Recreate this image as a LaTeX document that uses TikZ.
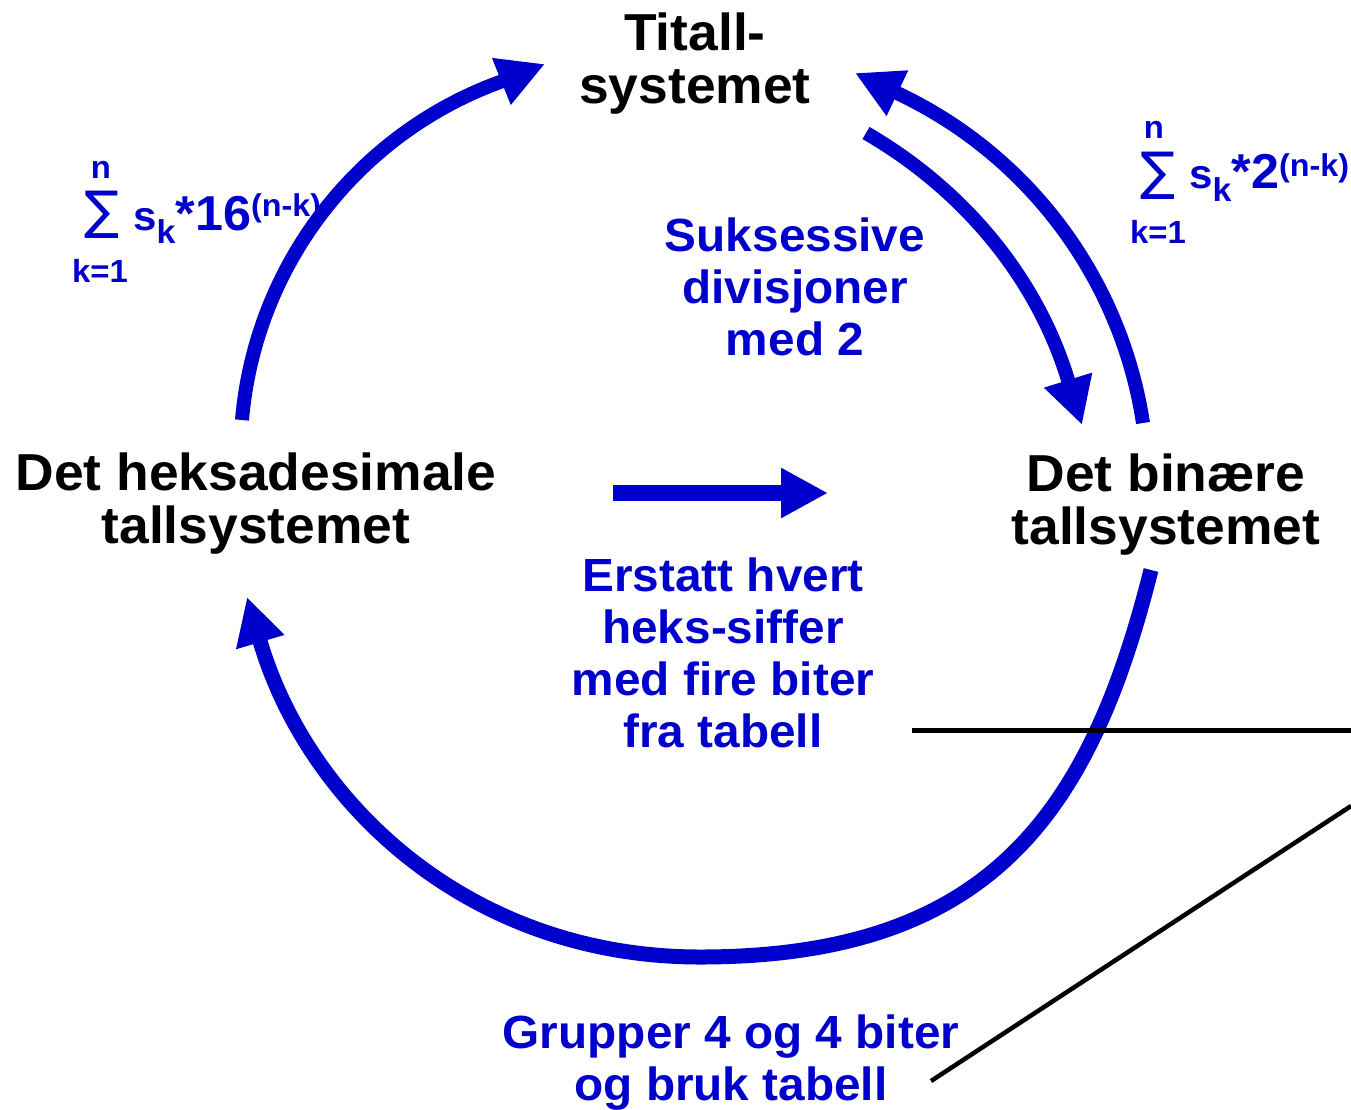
\documentclass[tikz,border=0pt]{standalone}
\usepackage{fontspec}
\setmainfont{Liberation Sans}[FakeStretch=1.027]
\newfontfamily\sigmafont{DejaVu Sans}
\usetikzlibrary{arrows.meta}
\definecolor{tblue}{RGB}{0,0,204}
\begin{document}
\begin{tikzpicture}[x=1pt,y=-1pt,
  blk/.style={font=\bfseries\fontsize{52}{53}\selectfont, align=center, anchor=base, inner sep=0pt},
  bl/.style={text=tblue, font=\bfseries\fontsize{46.5}{51.8}\selectfont, align=center, anchor=base, inner sep=0pt},
  sm/.style={text=tblue, font=\bfseries\fontsize{32}{32}\selectfont, anchor=base, inner sep=0pt},
  sig/.style={text=tblue, font=\sigmafont\fontsize{52}{52}\selectfont, anchor=center, inner sep=0pt},
  expr/.style={text=tblue, font=\bfseries, anchor=base west, inner sep=0pt},
  conn/.style={draw=tblue, line width=14pt, -{Triangle[length=47pt,width=47pt]}},
  straightconn/.style={draw=tblue, line width=16pt, -{Triangle[length=47pt,width=47pt]}},
  guide/.style={draw=black, line width=5pt}]
\useasboundingbox (0,0) rectangle (1351,1109);

% main labels (anchor = baseline of the last line)
\node[blk] (dec) at (695,103) {Titall-\\systemet};
\node[blk] (hex) at (256,543) {Det heksadesimale\\tallsystemet};
\node[blk] (bin) at (1166,544) {Det binære\\tallsystemet};

% blue labels
\node[bl] (div) at (795,355) {Suksessive\\divisjoner\\med 2};
\node[bl] (repl) at (723,747) {Erstatt hvert\\heks-siffer\\med fire biter\\fra tabell};
\node[bl] (grp) at (731,1100) {Grupper 4 og 4 biter\\og bruk tabell};

% left formula
\node[sm] (nL) at (101,178) {n};
\node[sig] (sigL) at (102,215) {∑};
\node[sm] (kL) at (100,282) {k=1};
\node[expr] (fL) at (133,230) {\fontsize{41}{41}\selectfont s\raisebox{-13pt}{\fontsize{33}{33}\selectfont k}\fontsize{49}{49}\selectfont *16\raisebox{14pt}{\fontsize{31.5}{31.5}\selectfont (n-k)}};

% right formula
\node[sm] (nR) at (1154,138) {n};
\node[sig] (sigR) at (1158,176) {∑};
\node[sm] (kR) at (1158,243) {k=1};
\node[expr] (fR) at (1189,188) {\fontsize{41}{41}\selectfont s\raisebox{-13pt}{\fontsize{33}{33}\selectfont k}\fontsize{49}{49}\selectfont *2\raisebox{12pt}{\fontsize{31.5}{31.5}\selectfont (n-k)}};

% connector end points
\coordinate (hexTop) at (242,420);
\coordinate (a1p) at (500,82);
\coordinate (decL) at (545,64);
\coordinate (binTop) at (1143,423);
\coordinate (a2p) at (897,93);
\coordinate (decR) at (855,73);
\coordinate (decIn) at (866,133);
\coordinate (a3p) at (1068,380);
\coordinate (binIn) at (1082,425);
\coordinate (binBot) at (1151,570);
\coordinate (bottom) at (700,957);
\coordinate (a4p) at (260,641);
\coordinate (hexBot) at (247,597);
\coordinate (midS) at (613,493);
\coordinate (midE) at (828,493);

% arcs
\draw[conn] (hexTop) .. controls (255,267) and (356,134.5) .. (a1p) -- (decL);
\draw[conn] (binTop) .. controls (1121,279) and (1029,155) .. (a2p) -- (decR);
\draw[conn] (decIn) .. controls (961,188) and (1036,275) .. (a3p) -- (binIn);
\draw[conn, line width=15pt] (binBot) .. controls (1090,813) and (990,957) .. (bottom)
  .. controls (470,957) and (308,804) .. (a4p) -- (hexBot);
\draw[straightconn] (midS) -- (midE);

% black guide lines
\coordinate (h1) at (912,730);
\coordinate (h2) at (1351,730);
\coordinate (g1) at (931,1081);
\coordinate (g2) at (1351,806);
\draw[guide] (h1) -- (h2);
\draw[guide, line width=4.5pt] (g1) -- (g2);
\end{tikzpicture}
\end{document}
